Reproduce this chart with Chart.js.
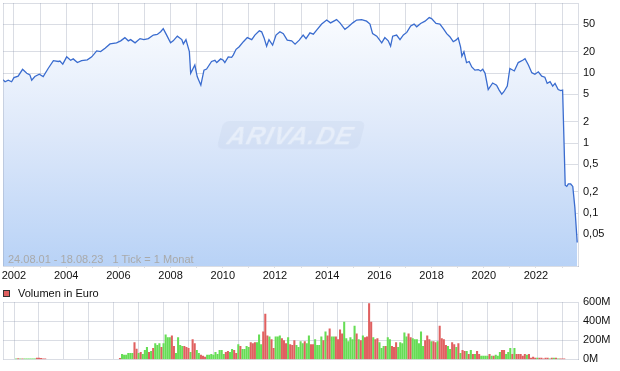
<!DOCTYPE html>
<html>
<head>
<meta charset="utf-8">
<script src="https://cdn.jsdelivr.net/npm/chart.js@4.4.0/dist/chart.umd.min.js"></script>
<style>
  html, body { margin: 0; padding: 0; background: #fff; }
  body { width: 620px; height: 371px; position: relative; overflow: hidden; font-family: 'Liberation Sans', Arial, sans-serif; }
  canvas { position: absolute; left: 0; }
  #price-chart { top: -20px; }
  #volume-chart { top: 280px; }
  .note { position: absolute; left: 8px; top: 253px; font-size: 11px; line-height: 13px; color: #a9a9a9; white-space: pre; }
  .legend { position: absolute; left: 3px; top: 287px; font-size: 11px; line-height: 13px; color: #111; white-space: pre; }
  .legend i { display: inline-block; width: 5px; height: 5px; background: #e06060; border: 1px solid #333; margin-right: 8px; vertical-align: 0; }
  .mark { position: absolute; left: 220px; top: 121px; width: 142px; height: 28px; border-radius: 6px; transform: skewX(-14deg);
          background: rgba(180, 196, 220, 0.18); color: rgba(255, 255, 255, 0.42); font: italic bold 25px 'Liberation Sans', Arial, sans-serif;
          letter-spacing: 1px; text-align: center; line-height: 28px; }
</style>
</head>
<body>
<canvas id="price-chart" width="620" height="306"></canvas>
<canvas id="volume-chart" width="620" height="91"></canvas>
<div class="mark">ARIVA.DE</div>
<div class="note">24.08.01 - 18.08.23   1 Tick = 1 Monat</div>
<div class="legend"><i></i>Volumen in Euro</div>
<script>
// ── Data ──────────────────────────────────────────────────────────────────
// price line, x = decimal year
const priceYears = [
    2001.58, 2001.66, 2001.78, 2001.91, 2002.00, 2002.16, 2002.33, 2002.49, 2002.61, 2002.68,
    2002.80, 2002.97, 2003.12, 2003.31, 2003.51, 2003.70, 2003.76, 2003.87, 2004.02, 2004.17,
    2004.27, 2004.43, 2004.59, 2004.81, 2004.98, 2005.17, 2005.32, 2005.49, 2005.68, 2005.93,
    2006.09, 2006.25, 2006.38, 2006.47, 2006.64, 2006.83, 2006.98, 2007.15, 2007.34, 2007.49,
    2007.62, 2007.72, 2007.85, 2008.00, 2008.10, 2008.26, 2008.43, 2008.49, 2008.59, 2008.72,
    2008.77, 2008.93, 2009.02, 2009.16, 2009.28, 2009.38, 2009.57, 2009.70, 2009.77, 2009.92,
    2010.02, 2010.08, 2010.21, 2010.34, 2010.40, 2010.51, 2010.63, 2010.79, 2010.94, 2011.11,
    2011.23, 2011.40, 2011.49, 2011.58, 2011.68, 2011.77, 2011.91, 2012.04, 2012.19, 2012.32,
    2012.47, 2012.64, 2012.77, 2012.93, 2013.08, 2013.19, 2013.34, 2013.47, 2013.62, 2013.79,
    2013.98, 2014.13, 2014.36, 2014.49, 2014.68, 2014.81, 2014.98, 2015.13, 2015.32, 2015.51,
    2015.64, 2015.74, 2015.90, 2016.09, 2016.21, 2016.34, 2016.43, 2016.51, 2016.66, 2016.79,
    2016.92, 2017.05, 2017.20, 2017.33, 2017.43, 2017.58, 2017.75, 2017.91, 2018.00, 2018.17,
    2018.32, 2018.45, 2018.58, 2018.70, 2018.83, 2018.93, 2019.02, 2019.11, 2019.16, 2019.24,
    2019.34, 2019.44, 2019.54, 2019.66, 2019.79, 2019.88, 2019.96, 2020.05, 2020.17, 2020.34,
    2020.49, 2020.59, 2020.69, 2020.77, 2020.90, 2021.00, 2021.17, 2021.32, 2021.49, 2021.58,
    2021.71, 2021.84, 2021.96, 2022.09, 2022.22, 2022.34, 2022.43, 2022.54, 2022.64, 2022.73,
    2022.85, 2022.95, 2023.02, 2023.12, 2023.18, 2023.24, 2023.33, 2023.41, 2023.49, 2023.58,
];
const priceValues = [
    8.0, 7.5, 7.9, 7.5, 8.6, 9.0, 11.3, 9.9, 9.4, 7.9,
    8.9, 9.6, 8.9, 11.6, 15.0, 14.6, 14.8, 13.4, 17.0, 15.2,
    15.9, 14.1, 15.0, 15.4, 17.0, 20.7, 20.2, 22.6, 26.0, 27.0,
    28.8, 32.0, 28.8, 30.0, 27.0, 31.0, 30.0, 31.0, 34.8, 35.5,
    38.8, 43.0, 34.8, 27.0, 28.8, 33.6, 30.0, 26.0, 30.0, 20.2,
    9.9, 13.0, 8.9, 6.7, 11.0, 11.4, 14.6, 15.2, 14.1, 15.9,
    15.2, 14.1, 17.0, 16.7, 18.0, 21.8, 23.7, 28.0, 32.0, 30.0,
    34.8, 40.0, 38.8, 32.0, 24.2, 30.0, 25.0, 34.8, 38.8, 36.5,
    29.5, 28.8, 25.8, 29.5, 34.8, 31.0, 37.5, 35.9, 42.0, 50.0,
    57.0, 52.0, 58.0, 52.0, 42.0, 45.7, 52.0, 57.0, 58.0, 55.0,
    50.0, 36.5, 33.6, 27.0, 32.0, 28.8, 24.2, 33.6, 34.8, 30.0,
    35.0, 38.0, 47.0, 50.0, 45.7, 51.0, 55.0, 62.0, 60.0, 51.0,
    50.0, 43.0, 36.5, 33.0, 28.0, 29.5, 31.7, 23.7, 17.4, 20.2,
    14.1, 14.6, 12.2, 11.0, 11.2, 10.7, 11.3, 9.9, 5.8, 7.2,
    6.7, 5.7, 5.0, 5.4, 6.5, 11.6, 10.7, 14.1, 15.2, 16.0,
    13.0, 10.1, 9.6, 10.4, 9.0, 8.7, 7.1, 7.5, 6.5, 7.1,
    5.8, 5.6, 5.7, 0.25, 0.24, 0.26, 0.26, 0.24, 0.12, 0.038,
];

// monthly volume in million euro, 'g' = up month, 'r' = down month
const volEarlyStart = 2001 + 7 / 12;   // Aug 2001
const volEarly = [5, 8, 5, 6, 5, 5, 5, 5, 6, 6, 14, 15, 12, 6, 5];
const volEarlyDir = 'grgrggggggrrrrr';

const volMainStart = 2005 + 9 / 12;    // Oct 2005
const volMain = [
    10, 54, 44, 44, 64, 64, 64, 176, 108, 64, 75, 54,
    95, 125, 75, 85, 115, 166, 146, 166, 125, 166, 258, 227,
    227, 247, 136, 64, 227, 146, 136, 136, 125, 115, 75, 207,
    166, 95, 64, 44, 34, 24, 44, 44, 54, 44, 75, 54,
    95, 95, 54, 75, 85, 75, 105, 95, 64, 156, 136, 105,
    105, 136, 125, 176, 166, 176, 176, 258, 156, 288, 475, 247,
    237, 207, 115, 237, 237, 247, 217, 197, 166, 227, 156, 146,
    197, 146, 125, 186, 166, 186, 166, 247, 156, 156, 207, 146,
    146, 237, 197, 288, 247, 319, 237, 237, 237, 207, 308, 268,
    390, 217, 186, 227, 207, 349, 268, 207, 197, 247, 227, 237,
    583, 390, 227, 207, 217, 176, 115, 136, 136, 227, 207, 136,
    125, 176, 125, 176, 166, 278, 237, 268, 227, 217, 207, 207,
    166, 288, 136, 197, 247, 207, 186, 186, 176, 186, 349, 217,
    207, 146, 136, 105, 176, 156, 125, 166, 64, 95, 85, 85,
    54, 95, 54, 54, 85, 54, 34, 34, 34, 34, 54, 34,
    34, 44, 34, 75, 95, 95, 54, 75, 115, 54, 115, 54,
    54, 54, 34, 54, 44, 54, 14, 24, 14, 14, 14, 14,
    7, 14, 14, 7, 14, 14, 14, 5, 5, 5, 5,
];
const volMainDir =
    'rggggggrrgrg' + 'ggrgrgggrggg' + 'grrggggrrrgr' + 'rggrrrgggggg' +
    'gggrrggrrgrg' + 'gggrrrgggrrr' + 'grrgggrrrgrr' + 'rggggrggrrgg' +
    'ggrgrrggrrrr' + 'ggggggrgrgrr' + 'rrgrrgggrggr' + 'rrgggggrrggg' +
    'gggrrrgrrgrr' + 'rrggrrgrgrrg' + 'rgrgrrggggrg' + 'rgggrrgggrgr' +
    'rrrrgrrrrgrr' + 'rrrgrgrgrrr';

// tick labels
const yearTicks = [2002, 2003, 2004, 2005, 2006, 2007, 2008, 2009, 2010, 2011, 2012,
    2013, 2014, 2015, 2016, 2017, 2018, 2019, 2020, 2021, 2022, 2023];
const priceTicks = [0.05, 0.1, 0.2, 0.5, 1, 2, 5, 10, 20, 50, 100];
const volumeTicks = [0, 200, 400, 600];

// ── Styling ───────────────────────────────────────────────────────────────
const FONT = { family: "'Liberation Sans', Arial, sans-serif", size: 11 };
const GRID = 'rgba(140, 150, 170, 0.32)';
const TEXT = '#111';
const UP = '#66dd55';
const DOWN = '#e06060';
const X_MIN = 2001.58;
const X_MAX = 2023.61;

// left edge of the plot frame
const framePlugin = {
    id: 'frame',
    afterDraw(chart) {
        const { ctx, chartArea: a } = chart;
        ctx.save();
        ctx.strokeStyle = GRID;
        ctx.lineWidth = 1;
        ctx.beginPath();
        ctx.moveTo(Math.round(a.left) + 0.5, a.top);
        ctx.lineTo(Math.round(a.left) + 0.5, a.bottom);
        ctx.stroke();
        ctx.restore();
    },
};

const areaGradient = (c) => {
    const a = c.chart.chartArea;
    if (!a) return 'rgba(0,0,0,0)';
    const g = c.chart.ctx.createLinearGradient(0, a.top, 0, a.bottom);
    g.addColorStop(0, '#fdfeff');
    g.addColorStop(0.5, '#dde8fa');
    g.addColorStop(1, '#b8d2f6');
    return g;
};

const xScale = (showLabels) => ({
    type: 'linear',
    min: X_MIN,
    max: X_MAX,
    z: 1,
    afterBuildTicks: s => { s.ticks = yearTicks.map(v => ({ value: v })); },
    afterFit: s => { s.height = showLabels ? 20 : 10; },
    grid: { color: GRID, drawTicks: showLabels, tickLength: 2 },
    border: { color: GRID },
    ticks: {
        display: showLabels,
        autoSkip: false,
        maxRotation: 0,
        padding: 1,
        color: TEXT,
        font: FONT,
        callback: v => (v % 2 === 0 ? String(v) : ''),
    },
});

// ── Price chart ───────────────────────────────────────────────────────────
// canvas starts 20px above the page so that the plot top lands at y = 3
new Chart(document.getElementById('price-chart'), {
    type: 'line',
    data: {
        datasets: [{
            data: priceYears.map((x, i) => ({ x, y: priceValues[i] })),
            borderColor: '#3a6ccf',
            borderWidth: 1.3,
            backgroundColor: areaGradient,
            fill: 'start',
            pointRadius: 0,
            tension: 0,
        }],
    },
    options: {
        responsive: false,
        animation: false,
        layout: { padding: { left: 3, top: 23, right: 0, bottom: 0 } },
        plugins: { legend: { display: false }, tooltip: { enabled: false } },
        scales: {
            x: xScale(true),
            y: {
                type: 'logarithmic',
                position: 'right',
                min: 0.0175,
                max: 100,
                z: 1,
                afterBuildTicks: s => { s.ticks = priceTicks.map(v => ({ value: v })); },
                afterFit: s => { s.width = 42; },
                grid: { color: GRID, drawTicks: false },
                border: { color: GRID },
                ticks: {
                    padding: 5,
                    color: TEXT,
                    font: FONT,
                    callback: v => (v >= 100 ? '' : String(v).replace('.', ',')),
                },
            },
        },
    },
    plugins: [framePlugin],
});

// ── Volume chart ──────────────────────────────────────────────────────────
const volPoints = [];
const volColors = [];
volEarly.forEach((v, i) => {
    volPoints.push({ x: volEarlyStart + i / 12, y: v });
    volColors.push(volEarlyDir[i] === 'g' ? UP : DOWN);
});
volMain.forEach((v, i) => {
    volPoints.push({ x: volMainStart + i / 12, y: v });
    volColors.push(volMainDir[i] === 'g' ? UP : DOWN);
});

// canvas runs 280..371, plot 302..361
new Chart(document.getElementById('volume-chart'), {
    type: 'bar',
    data: {
        datasets: [{
            data: volPoints,
            backgroundColor: volColors,
            borderWidth: 0,
            barThickness: 1.4,
        }],
    },
    options: {
        responsive: false,
        animation: false,
        layout: { padding: { left: 3, top: 22, right: 0, bottom: 0 } },
        plugins: { legend: { display: false }, tooltip: { enabled: false } },
        scales: {
            x: xScale(false),
            y: {
                position: 'right',
                min: 0,
                max: 600,
                z: 1,
                afterBuildTicks: s => { s.ticks = volumeTicks.map(v => ({ value: v })); },
                afterFit: s => { s.width = 42; },
                grid: { color: c => (c.tick && c.tick.value === 0 ? 'rgba(0,0,0,0)' : GRID), drawTicks: false },
                border: { color: GRID },
                ticks: { padding: 5, color: TEXT, font: FONT, callback: v => v + 'M' },
            },
        },
    },
    plugins: [framePlugin],
});
</script>
</body>
</html>
